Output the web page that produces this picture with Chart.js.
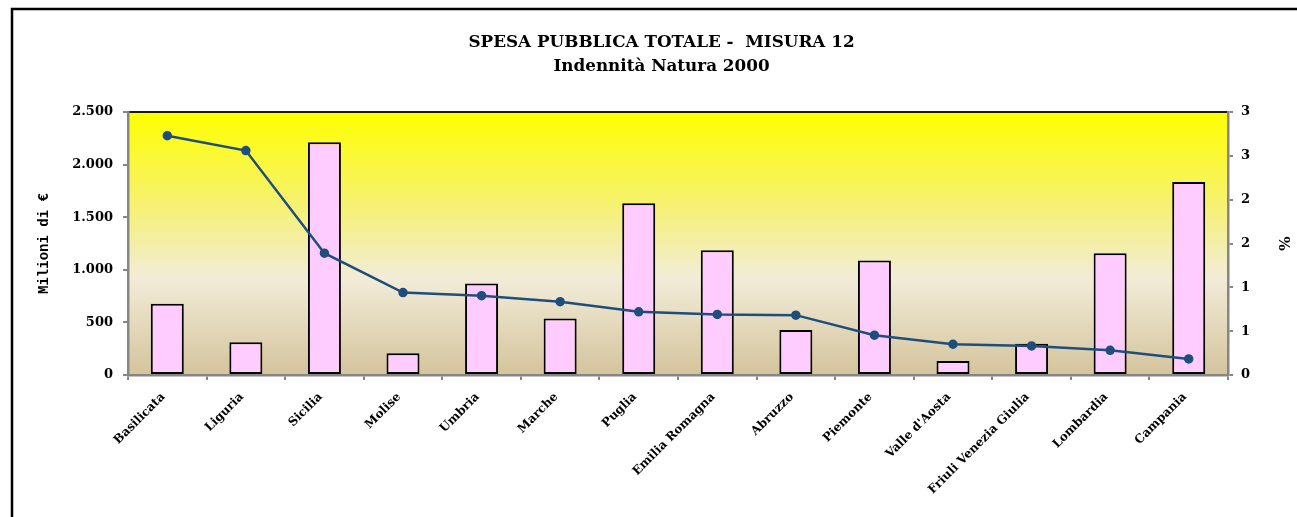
<!DOCTYPE html>
<html>
<head>
<meta charset="utf-8">
<script src="https://cdn.jsdelivr.net/npm/chart.js@4.4.1/dist/chart.umd.min.js"></script>
<style>
  html, body { margin: 0; padding: 0; background: #ffffff; }
  #wrap { width: 1297px; height: 517px; }
</style>
</head>
<body>
<div id="wrap"><canvas id="c" width="1297" height="517"></canvas></div>
<script>
const categories = ['Basilicata', 'Liguria', 'Sicilia', 'Molise', 'Umbria', 'Marche', 'Puglia',
  'Emilia Romagna', 'Abruzzo', 'Piemonte', "Valle d'Aosta", 'Friuli Venezia Giulia', 'Lombardia', 'Campania'];
const spesaMilioni = [677, 312, 2214, 207, 871, 537, 1634, 1186, 429, 1088, 134, 296, 1157, 1835];
const quotaPercent = [2.73, 2.56, 1.39, 0.94, 0.905, 0.836, 0.721, 0.691, 0.683, 0.454, 0.351, 0.332, 0.282, 0.183];
const leftTickLabels = ['0', '500', '1.000', '1.500', '2.000', '2.500'];
const rightTickLabels = ['0', '1', '1', '2', '2', '3', '3'];
const titleLines = ['SPESA PUBBLICA TOTALE -  MISURA 12', 'Indennità Natura 2000'];

const serif = "'DejaVu Serif', 'Liberation Serif', serif";

const decorPlugin = {
  id: 'decor',
  beforeDraw(chart) {
    const { ctx, chartArea } = chart;
    ctx.save();
    const g = ctx.createLinearGradient(0, chartArea.top, 0, chartArea.bottom);
    g.addColorStop(0, '#FFFF00');
    g.addColorStop(0.35, '#F6F170');
    g.addColorStop(0.63, '#F2ECD8');
    g.addColorStop(1, '#D4C49D');
    ctx.fillStyle = g;
    ctx.fillRect(chartArea.left, chartArea.top, chartArea.right - chartArea.left, chartArea.bottom - chartArea.top);
    ctx.strokeStyle = '#1a1a1a';
    ctx.lineWidth = 2;
    ctx.beginPath();
    ctx.moveTo(chartArea.left, chartArea.top);
    ctx.lineTo(chartArea.right, chartArea.top);
    ctx.stroke();
    ctx.strokeStyle = '#000000';
    ctx.lineWidth = 2.5;
    ctx.beginPath();
    ctx.moveTo(12, 517);
    ctx.lineTo(12, 9);
    ctx.lineTo(1297, 9);
    ctx.stroke();
    ctx.restore();
  }
};

new Chart(document.getElementById('c'), {
  data: {
    labels: categories,
    datasets: [
      {
        type: 'line',
        label: '%',
        data: quotaPercent,
        yAxisID: 'yR',
        borderColor: '#1F4E7C',
        backgroundColor: '#1F4E7C',
        borderWidth: 2.5,
        pointRadius: 3.5,
        pointBackgroundColor: '#1F4E7C',
        pointBorderColor: '#1F4E7C',
        tension: 0,
        order: 1
      },
      {
        type: 'bar',
        label: 'Milioni di €',
        data: spesaMilioni,
        yAxisID: 'yL',
        backgroundColor: '#FFCCFF',
        borderColor: '#000000',
        borderWidth: 2,
        borderSkipped: false,
        barPercentage: 0.42,
        categoryPercentage: 1.0,
        order: 2
      }
    ]
  },
  options: {
    responsive: false,
    animation: false,
    layout: { padding: { left: 26, right: 0, top: 0, bottom: 0 } },
    plugins: {
      legend: { display: false },
      tooltip: { enabled: false },
      title: {
        display: true,
        text: titleLines,
        color: '#000000',
        font: { family: serif, size: 16.8, weight: 'bold', lineHeight: 1.43 },
        padding: { top: 31, bottom: 33 }
      }
    },
    scales: {
      x: {
        offset: true,
        grid: { display: true, offset: true, drawOnChartArea: false, drawTicks: true, tickLength: 5, color: '#868686', lineWidth: 2 },
        border: { display: true, color: '#868686', width: 2.5 },
        ticks: {
          color: '#000000',
          font: { family: serif, size: 12, weight: 'bold' },
          maxRotation: 45,
          minRotation: 45,
          autoSkip: false,
          padding: 10,
          labelOffset: -4
        },
        afterFit(scale) { scale.height = 142; }
      },
      yL: {
        type: 'linear',
        position: 'left',
        min: 0,
        max: 2500,
        ticks: {
          stepSize: 500,
          color: '#000000',
          font: { family: serif, size: 13, weight: 'bold' },
          padding: 10,
          callback: (v, i) => leftTickLabels[i]
        },
        grid: { display: true, drawOnChartArea: false, drawTicks: true, tickLength: 5, color: '#868686', lineWidth: 2 },
        border: { display: true, color: '#868686', width: 2.5 },
        title: {
          display: true,
          text: 'Milioni di €',
          color: '#000000',
          font: { family: "'Liberation Mono', 'DejaVu Sans Mono', monospace", size: 14, weight: 'bold' },
          padding: { top: 10, bottom: 0 }
        },
        afterFit(scale) { scale.width = 102; }
      },
      yR: {
        type: 'linear',
        position: 'right',
        min: 0,
        max: 3,
        ticks: {
          stepSize: 0.5,
          color: '#000000',
          font: { family: serif, size: 13, weight: 'bold' },
          padding: 8,
          callback: (v, i) => rightTickLabels[i]
        },
        grid: { display: true, drawOnChartArea: false, drawTicks: true, tickLength: 5, color: '#868686', lineWidth: 2 },
        border: { display: true, color: '#868686', width: 2.5 },
        title: {
          display: true,
          text: '%',
          color: '#000000',
          font: { family: serif, size: 15, weight: 'bold' },
          padding: { top: 5, bottom: 0 }
        },
        afterFit(scale) { scale.width = 69; }
      }
    }
  },
  plugins: [decorPlugin]
});
</script>
</body>
</html>
